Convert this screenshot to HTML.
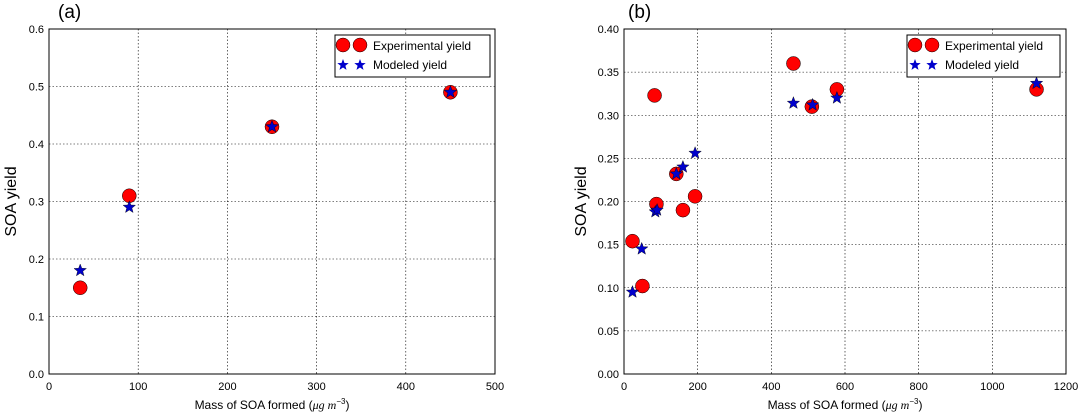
<!DOCTYPE html>
<html><head><meta charset="utf-8"><style>
html,body{margin:0;padding:0;background:#fff;width:1089px;height:414px;overflow:hidden}
svg{font-family:"Liberation Sans","DejaVu Sans",sans-serif}
</style></head><body>
<svg id="svg" width="1089" height="414" viewBox="0 0 1089 414"></svg>
<script>
const aExpX=[35,90,250,450];
const aExpY=[0.15,0.31,0.43,0.49];
const aModX=[35,90,250,450];
const aModY=[0.18,0.29,0.43,0.49];
const aXTicks=[0,100,200,300,400,500];
const aYTicks=[0.0,0.1,0.2,0.3,0.4,0.5,0.6];
const bExpX=[23,50,83,88,142,160,193,460,510,578,1120];
const bExpY=[0.154,0.102,0.323,0.197,0.232,0.19,0.206,0.36,0.31,0.33,0.33];
const bModX=[23,48,85,90,142,160,193,460,512,578,1120];
const bModY=[0.095,0.145,0.188,0.19,0.232,0.24,0.256,0.314,0.312,0.32,0.337];
const bXTicks=[0,200,400,600,800,1000,1200];
const bYTicks=[0.00,0.05,0.10,0.15,0.20,0.25,0.30,0.35,0.40];
const NS='http://www.w3.org/2000/svg';
const svg=document.getElementById('svg');
function el(t,a,p){const e=document.createElementNS(NS,t);for(const k in a)e.setAttribute(k,a[k]);(p||svg).appendChild(e);return e;}
function starPts(cx,cy,R){const r=R*0.42;let p=[];for(let i=0;i<10;i++){const ang=-Math.PI/2+i*Math.PI/5;const rr=i%2?r:R;p.push((cx+rr*Math.cos(ang)).toFixed(1)+','+(cy+rr*Math.sin(ang)).toFixed(1));}return p.join(' ');}
function panel(o){
 const g=el('g',{});
 
 
 const sx=v=>o.x0+(v-o.xmin)/(o.xmax-o.xmin)*(o.x1-o.x0);
 const sy=v=>o.y1-(v-o.ymin)/(o.ymax-o.ymin)*(o.y1-o.y0);
 o.xt.forEach(t=>{const x=sx(t);
  if(t>o.xmin&&t<o.xmax){const l=el('line',{x1:x,x2:x,y1:o.y0,y2:o.y1,stroke:'#000','stroke-width':0.6,'stroke-dasharray':'1.5,2'},g);}
  const tx=el('text',{x:x,y:o.y1+16,'font-size':11,'text-anchor':'middle',fill:'#000'},g);tx.textContent=t;
  });
 o.yt.forEach(t=>{const y=sy(t);
  if(t>o.ymin&&t<o.ymax){const l=el('line',{x1:o.x0,x2:o.x1,y1:y,y2:y,stroke:'#000','stroke-width':0.6,'stroke-dasharray':'1.5,2'},g);}
  const tx=el('text',{x:o.x0-5,y:y+4,'font-size':11,'text-anchor':'end',fill:'#000'},g);tx.textContent=t.toFixed(o.dec);
  });
 o.ex.forEach((v,i)=>{const c=el('circle',{cx:sx(v),cy:sy(o.ey[i]),r:7,fill:'#f00',stroke:'#000','stroke-width':0.5},g);
  });
 o.mx.forEach((v,i)=>{const s=el('polygon',{points:starPts(sx(v),sy(o.my[i]),6.5),fill:'#00c',stroke:'#000','stroke-width':0.4},g);
  });
 const fr=el('rect',{x:o.x0,y:o.y0,width:o.x1-o.x0,height:o.y1-o.y0,fill:'none',stroke:'#000','stroke-width':1},g);
 
 const lg=el('g',{},g);
 el('rect',{x:o.lx,y:35,width:o.lw,height:42,fill:'#fff',stroke:'#000','stroke-width':1},lg);
 el('circle',{cx:o.lx+8,cy:45,r:7,fill:'#f00',stroke:'#000','stroke-width':0.5},lg);
 el('circle',{cx:o.lx+25,cy:45,r:7,fill:'#f00',stroke:'#000','stroke-width':0.5},lg);
 el('polygon',{points:starPts(o.lx+8,65,6),fill:'#00c'},lg);
 el('polygon',{points:starPts(o.lx+25,65,6),fill:'#00c'},lg);
 const t1=el('text',{x:o.lx+38,y:50,'font-size':12},lg);t1.textContent='Experimental yield';
 
 const t2=el('text',{x:o.lx+38,y:69,'font-size':12},lg);t2.textContent='Modeled yield';
 
 const xl=el('text',{x:(o.x0+o.x1)/2,y:409,'font-size':12,'text-anchor':'middle'},g);
 xl.innerHTML='Mass of SOA formed (<tspan font-style="italic" font-family="Liberation Serif,serif">μg m</tspan><tspan font-size="8" dy="-5">−3</tspan><tspan dy="5">)</tspan>';
 
 const yl=el('text',{x:0,y:0,'font-size':16,'text-anchor':'middle',transform:`translate(${o.ylx},${(o.y0+o.y1)/2}) rotate(-90)`},g);
 yl.textContent='SOA yield';
 const pl=el('text',{x:o.plx,y:18,'font-size':19},g);pl.textContent='('+o.id+')';
 
}
panel({id:'a',x0:49,x1:495,y0:29,y1:374,xmin:0,xmax:500,ymin:0,ymax:0.6,xt:aXTicks,yt:aYTicks,dec:1,ex:aExpX,ey:aExpY,mx:aModX,my:aModY,lx:335,lw:155,ylx:16,plx:58});
panel({id:'b',x0:624,x1:1066,y0:29,y1:374,xmin:0,xmax:1200,ymin:0,ymax:0.4,xt:bXTicks,yt:bYTicks,dec:2,ex:bExpX,ey:bExpY,mx:bModX,my:bModY,lx:907,lw:153,ylx:586,plx:628});
</script>
</body></html>
